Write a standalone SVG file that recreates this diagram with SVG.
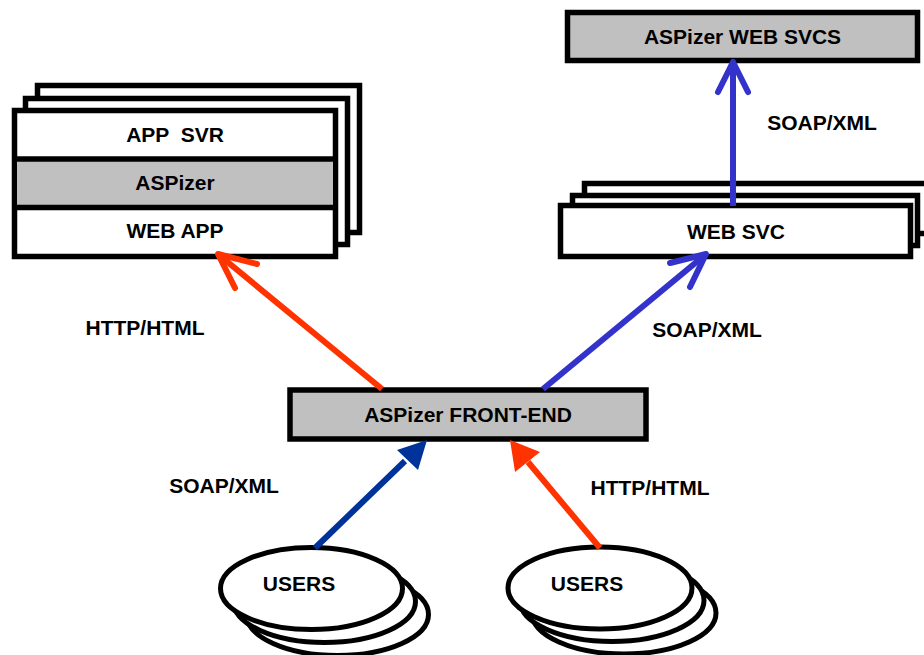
<svg xmlns="http://www.w3.org/2000/svg" width="924" height="655" viewBox="0 0 924 655">
<style>
.box{fill:#fff;stroke:#000;stroke-width:5.5}
.gray{fill:#c0c0c0;stroke:#000;stroke-width:5.5}
.ell{fill:#fff;stroke:#000;stroke-width:5}
.t{font-family:"Liberation Sans",Arial,Helvetica,sans-serif;font-weight:bold;font-size:21px;text-anchor:middle;fill:#000;white-space:pre}
.red{stroke:#ff3300;stroke-width:6;fill:none;stroke-linecap:round;stroke-linejoin:round}
.blue{stroke:#3333cc;stroke-width:6;fill:none;stroke-linecap:round;stroke-linejoin:round}
.dblue{stroke:#003399;stroke-width:6;fill:none}
</style>
<rect width="924" height="655" fill="#fff"/>
<g id="app-svr-stack">
<rect class="box" x="37.5" y="85.5" width="322" height="147"/>
<rect class="box" x="25.5" y="98.5" width="322" height="146"/>
<rect class="box" x="14.5" y="110.5" width="321" height="146"/>
<rect fill="#c0c0c0" x="17" y="159" width="316" height="48"/>
<line x1="14.5" y1="159" x2="335.5" y2="159" stroke="#000" stroke-width="5.5"/>
<line x1="14.5" y1="207.5" x2="335.5" y2="207.5" stroke="#000" stroke-width="5.5"/>
<text class="t" x="175" y="142" xml:space="preserve">APP  SVR</text>
<text class="t" x="175" y="190">ASPizer</text>
<text class="t" x="175" y="238">WEB APP</text>
</g>
<g id="aspizer-web-svcs">
<rect class="gray" x="567.5" y="12.5" width="350" height="48"/>
<text class="t" x="742.5" y="44">ASPizer WEB SVCS</text>
</g>
<g id="web-svc-stack">
<rect class="box" x="584.5" y="183.5" width="352" height="50"/>
<rect class="box" x="572.5" y="195.5" width="345" height="50"/>
<rect class="box" x="560.5" y="205.5" width="350" height="51"/>
<text class="t" x="736" y="238.5">WEB SVC</text>
</g>
<g id="aspizer-front-end">
<rect class="gray" x="290" y="390" width="356" height="49"/>
<text class="t" x="468" y="421.5">ASPizer FRONT-END</text>
</g>
<g id="users-left">
<ellipse class="ell" cx="337.5" cy="614.5" rx="91" ry="41"/>
<ellipse class="ell" cx="324.5" cy="601.5" rx="91" ry="41"/>
<ellipse class="ell" cx="311.5" cy="588.5" rx="91" ry="41"/>
<text class="t" x="299" y="590.5">USERS</text>
</g>
<g id="users-right">
<ellipse class="ell" cx="624" cy="613" rx="92" ry="41"/>
<ellipse class="ell" cx="612" cy="600.5" rx="92" ry="41"/>
<ellipse class="ell" cx="600" cy="588" rx="92" ry="41"/>
<text class="t" x="587" y="590.5">USERS</text>
</g>
<g id="connectors">
<line class="red" x1="382" y1="389" x2="219" y2="255" style="stroke-linecap:butt"/>
<polyline class="red" points="257,264 218,254 235,288"/>
<line class="blue" x1="543" y1="389" x2="705" y2="255" style="stroke-linecap:butt"/>
<polyline class="blue" points="670,263 706,254 690,287"/>
<line class="blue" x1="733" y1="206" x2="733" y2="63" style="stroke-linecap:butt"/>
<polyline class="blue" points="718,92 733,62 748,92"/>
<line class="dblue" x1="315" y1="548" x2="405" y2="461"/>
<polygon points="427,440 397,450 418,470" fill="#003399"/>
<line class="red" x1="600" y1="548" x2="528" y2="462" style="stroke-linecap:butt"/>
<polygon points="510,440 515,472 540,452" fill="#ff3300"/>
</g>
<g id="labels">
<text class="t" x="145" y="335">HTTP/HTML</text>
<text class="t" x="707" y="337">SOAP/XML</text>
<text class="t" x="822" y="129.5">SOAP/XML</text>
<text class="t" x="224" y="493">SOAP/XML</text>
<text class="t" x="650" y="495">HTTP/HTML</text>
</g>
</svg>
